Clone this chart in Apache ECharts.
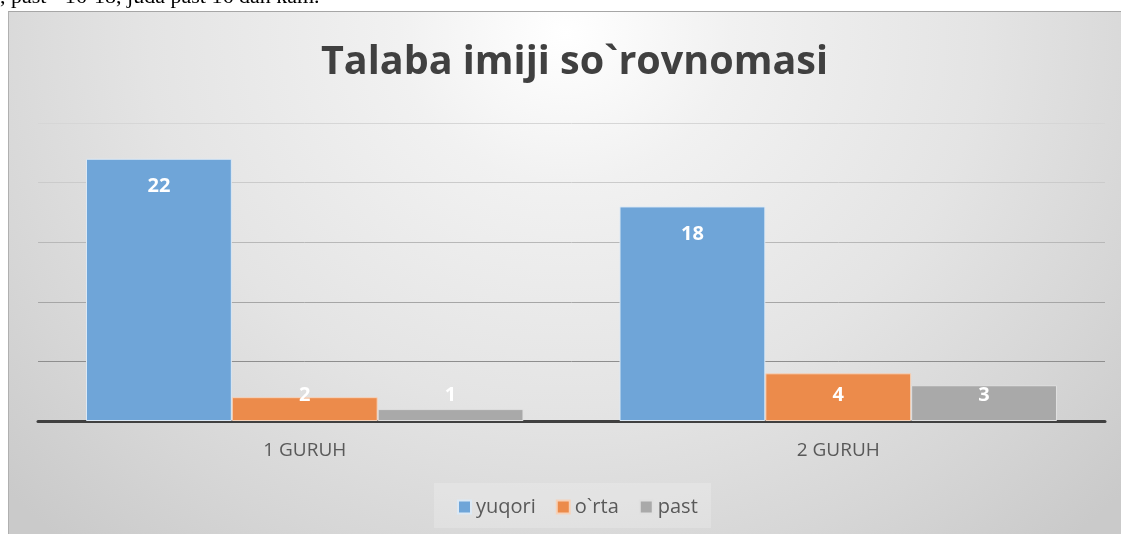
<!DOCTYPE html>
<html>
<head>
<meta charset="utf-8">
<script src="https://cdn.jsdelivr.net/npm/echarts@6/dist/echarts.min.js"></script>
<style>
  html, body { margin: 0; padding: 0; background: #ffffff; overflow: hidden; }
  #frame {
    position: absolute; left: 8px; top: 11px; width: 1113px; height: 523px;
    border-top: 1px solid #a6a6a6; border-left: 1px solid #b0b0b0;
    background: radial-gradient(ellipse 68% 130% at 50% 4%, #ffffff 0%, #f1f1f1 22%, #e4e4e4 55%, #d6d6d6 80%, #cacaca 100%);
  }
  #chart { position: absolute; left: 0; top: 0; width: 1121px; height: 534px; }
</style>
</head>
<body>
<div id="frame"></div>
<div id="chart"></div>
<script>
const categories = ['1 GURUH', '2 GURUH']
const yuqori = [22, 18]
const orta = [2, 4]
const past = [1, 3]
const seriesNames = ['yuqori', 'o`rta', 'past']
const yMax = 25
const yStep = 5

const chart = echarts.init(document.getElementById('chart'))

const barLabel = (position, distance) => ({
  show: true,
  position: position,
  distance: distance,
  color: '#ffffff',
  fontSize: 20,
  fontWeight: 'bold',
  fontFamily: 'Open Sans',
})

chart.setOption({
  animation: false,
  graphic: [
    {
      type: 'text',
      left: 0,
      top: -14,
      style: {
        text: ', past - 16-18, juda past 16 dan kam.',
        font: '22px "Liberation Serif"',
        fill: '#000000',
      },
    },
    {
      type: 'rect',
      z: -5,
      shape: { x: 434, y: 483, width: 277, height: 45 },
      style: { fill: 'rgba(255,255,255,0.2)' },
    },
  ],
  title: {
    text: 'Talaba imiji so`rovnomasi',
    left: 316,
    top: 38,
    textStyle: {
      fontFamily: 'Open Sans',
      fontSize: 39.5,
      fontWeight: 'bold',
      color: '#404040',
    },
  },
  legend: {
    data: seriesNames,
    bottom: 12,
    left: 452,
    icon: 'rect',
    itemWidth: 13,
    itemHeight: 13,
    itemGap: 20,
    textStyle: { fontFamily: 'Open Sans', fontSize: 20, color: '#595959' },
  },
  grid: { left: 38, right: 16, top: 123, bottom: 113 },
  xAxis: {
    type: 'category',
    data: categories,
    axisLine: { lineStyle: { color: '#404040', width: 3 } },
    axisTick: { show: false },
    axisLabel: { fontFamily: 'Open Sans', fontSize: 19, color: '#595959', margin: 20 },
  },
  yAxis: {
    type: 'value',
    min: 0,
    max: yMax,
    interval: yStep,
    axisLabel: { show: false },
    axisLine: { show: false },
    axisTick: { show: false },
    splitLine: {
      lineStyle: {
        color: ['#808080', '#8e8e8e', '#a6a6a6', '#b8b8b8', '#cbcbcb', '#d6d6d6'],
        width: 1,
      },
    },
  },
  series: [
    {
      name: seriesNames[0],
      type: 'bar',
      data: yuqori,
      barGap: '0%',
      barCategoryGap: '18%',
      itemStyle: { color: '#6fa5d8', borderColor: '#dce9f5', borderWidth: 1 },
      label: barLabel('insideTop', 18),
    },
    {
      name: seriesNames[1],
      type: 'bar',
      data: orta,
      itemStyle: { color: '#ec8b4b', borderColor: '#f6d2b9', borderWidth: 1 },
      label: barLabel('insideBottom', 16),
    },
    {
      name: seriesNames[2],
      type: 'bar',
      data: past,
      itemStyle: { color: '#a9a9a9', borderColor: '#e0e0e0', borderWidth: 1 },
      label: barLabel('insideBottom', 16),
    },
  ],
})
</script>
</body>
</html>
